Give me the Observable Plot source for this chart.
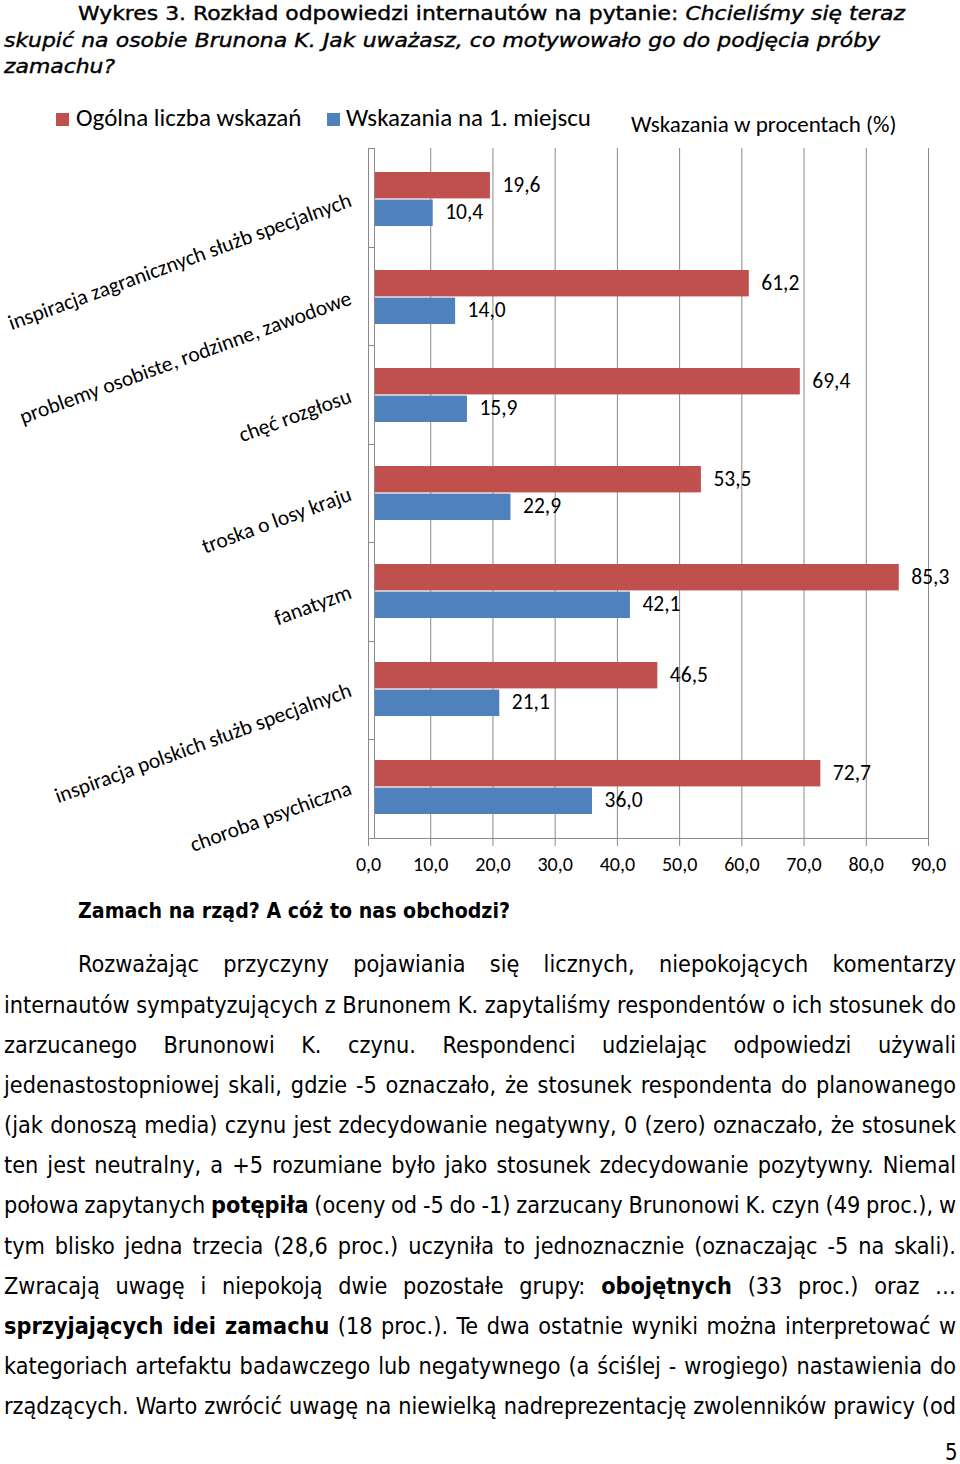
<!DOCTYPE html>
<html><head><meta charset="utf-8">
<script src="https://cdn.jsdelivr.net/npm/d3@7"></script>
<script src="https://cdn.jsdelivr.net/npm/@observablehq/plot@0.6"></script>
<style>
html,body{margin:0;padding:0;background:#fff;}
body{width:960px;height:1464px;position:relative;overflow:hidden;}
.ln{position:absolute;white-space:pre;display:inline-block;font-family:"DejaVu Sans Condensed","DejaVu Sans",sans-serif;font-stretch:condensed;color:#000;line-height:1;}
.lg{position:absolute;font-family:Carlito,Lato,"Open Sans",sans-serif;color:#000;white-space:nowrap;line-height:28px;}
.sw{position:absolute;width:13px;height:13px;}
#chart{position:absolute;left:0;top:140px;}
</style></head>
<body>
<div id="page"></div>
<div class="sw" style="left:56px;top:113px;background:#C0504D"></div>
<div class="lg" id="lg1" style="left:76px;top:104px;font-size:25px"></div>
<div class="sw" style="left:327px;top:113px;background:#4F81BD"></div>
<div class="lg" id="lg2" style="left:346px;top:104px;font-size:25px"></div>
<div class="lg" id="lg3" style="left:631px;top:110px;font-size:23px"></div>
<div id="chart"></div>
<script>
// ---- data ----
const categories = [
  "inspiracja zagranicznych służb specjalnych",
  "problemy osobiste, rodzinne, zawodowe",
  "chęć rozgłosu",
  "troska o losy kraju",
  "fanatyzm",
  "inspiracja polskich służb specjalnych",
  "choroba psychiczna"
];
const seriesNames = ["Ogólna liczba wskazań", "Wskazania na 1. miejscu"];
const totalValues = [19.6, 61.2, 69.4, 53.5, 85.3, 46.5, 72.7];
const firstPlaceValues = [10.4, 14.0, 15.9, 22.9, 42.1, 21.1, 36.0];
const xTicks = [0, 10, 20, 30, 40, 50, 60, 70, 80, 90];
const axisTitle = "Wskazania w procentach (%)";
const seriesColors = ["#C0504D", "#4F81BD"];

const fmt = v => v.toFixed(1).replace(".", ",");
const totalRows = categories.map((c, i) => ({category: c, value: totalValues[i]}));
const firstRows = categories.map((c, i) => ({category: c, value: firstPlaceValues[i]}));

document.getElementById("lg1").textContent = seriesNames[0];
document.getElementById("lg2").textContent = seriesNames[1];
document.getElementById("lg3").textContent = axisTitle;

const gridColor = "#8a8a8a";
const axisBox = (index, scales, values, dims) => {
  const g = d3.create("svg:g").attr("stroke", gridColor).attr("fill", "none");
  const x0 = scales.x(0), x9 = scales.x(xTicks[xTicks.length - 1]);
  const top = dims.marginTop, bottom = dims.height - dims.marginBottom;
  const step = (bottom - top) / categories.length;
  g.append("line").attr("x1", x0 + 6.5).attr("x2", x0 + 6.5).attr("y1", top).attr("y2", bottom);
  for (let k = 0; k <= categories.length; k++) {
    const y = Math.round(top + k * step) + 0.5;
    g.append("line").attr("x1", x0).attr("x2", x0 + 6.5).attr("y1", y).attr("y2", y);
  }
  g.append("line").attr("x1", x0).attr("x2", x9).attr("y1", bottom + 0.5).attr("y2", bottom + 0.5);
  return g.node();
};

const chart = Plot.plot({
  width: 960,
  height: 740,
  marginLeft: 368,
  marginRight: 32,
  marginTop: 8,
  marginBottom: 42,
  style: {fontFamily: "Carlito, Lato, 'Open Sans', sans-serif", color: "#000", background: "#fff"},
  x: {domain: [0, 90]},
  y: {domain: categories, padding: 0},
  marks: [
    Plot.ruleX(xTicks, {stroke: gridColor, strokeWidth: 1}),
    Plot.barX(totalRows, {x: "value", y: "category", fill: seriesColors[0], insetTop: 22, insetBottom: 49.6, insetLeft: 6.5}),
    Plot.barX(firstRows, {x: "value", y: "category", fill: seriesColors[1], insetTop: 49.6, insetBottom: 22, insetLeft: 6.5}),
    Plot.text(totalRows, {x: "value", y: "category", text: d => fmt(d.value), dx: 12, dy: -14, textAnchor: "start", fontSize: 21.5, fill: "#000"}),
    Plot.text(firstRows, {x: "value", y: "category", text: d => fmt(d.value), dx: 12, dy: 13, textAnchor: "start", fontSize: 21.5, fill: "#000"}),
    axisBox,
    Plot.axisX(xTicks, {tickSize: 8, tickPadding: 10, tickFormat: fmt, fontSize: 20, stroke: gridColor, fill: "#000", label: null}),
    Plot.axisY({tickSize: 0, tickPadding: 18, tickRotate: -20, fontSize: 21.5, fill: "#000", label: null})
  ]
});
document.getElementById("chart").appendChild(chart);

// ---- document text ----
const titleLines = [
  {x: 78, r: 905, b: 21, html: 'Wykres 3. Rozkład odpowiedzi internautów na pytanie: <i>Chcieliśmy się teraz</i>'},
  {x: 4, r: 880, b: 47.5, html: '<i>skupić na osobie Brunona K. Jak uważasz, co motywowało go do podjęcia próby</i>'},
  {x: 4, r: null, b: 74, html: '<i>zamachu?</i>'}
];
const headingLines = [
  {x: 78, r: 510, b: 917.5, html: '<b>Zamach na rząd? A cóż to nas obchodzi?</b>'}
];
const bodyTexts = [
  'Rozważając przyczyny pojawiania się licznych, niepokojących komentarzy',
  'internautów sympatyzujących z Brunonem K. zapytaliśmy respondentów o ich stosunek do',
  'zarzucanego Brunonowi K. czynu. Respondenci udzielając odpowiedzi używali',
  'jedenastostopniowej skali, gdzie -5 oznaczało, że stosunek respondenta do planowanego',
  '(jak donoszą media) czynu jest zdecydowanie negatywny, 0 (zero) oznaczało, że stosunek',
  'ten jest neutralny, a +5 rozumiane było jako stosunek zdecydowanie pozytywny. Niemal',
  'połowa zapytanych <b>potępiła</b> (oceny od -5 do -1) zarzucany Brunonowi K. czyn (49 proc.), w',
  'tym blisko jedna trzecia (28,6 proc.) uczyniła to jednoznacznie (oznaczając -5 na skali).',
  'Zwracają uwagę i niepokoją dwie pozostałe grupy: <b>obojętnych</b> (33 proc.) oraz …',
  '<b>sprzyjających idei zamachu</b> (18 proc.). Te dwa ostatnie wyniki można interpretować w',
  'kategoriach artefaktu badawczego lub negatywnego (a ściślej - wrogiego) nastawienia do',
  'rządzących. Warto zwrócić uwagę na niewielką nadreprezentację zwolenników prawicy (od'
];
const bodyLines = bodyTexts.map((h, i) => ({x: i === 0 ? 78 : 4, r: 956, b: 972 + i * 40.18, html: h}));

const page = document.getElementById("page");
function makeLines(lines, calibIndex, capH, extra) {
  const els = lines.map(L => {
    const el = document.createElement("div");
    el.className = "ln";
    el.innerHTML = L.html;
    el.style.left = L.x + "px";
    if (extra) Object.assign(el.style, extra);
    page.appendChild(el);
    return el;
  });
  const c = lines[calibIndex];
  els[calibIndex].style.fontSize = "100px";
  const w100 = els[calibIndex].getBoundingClientRect().width;
  const fs = 100 * (c.r - c.x) / w100;
  const sy = capH / (0.729 * fs);
  els.forEach((el, i) => {
    const L = lines[i];
    el.style.fontSize = fs + "px";
    el.style.top = (L.b - 0.846 * fs) + "px";
    el.style.transformOrigin = "0px " + (0.846 * fs) + "px";
    if (L.r != null) {
      const w = el.getBoundingClientRect().width;
      const n = (el.textContent.match(/ /g) || []).length;
      if (n > 0) el.style.wordSpacing = ((L.r - L.x - w) / n) + "px";
    }
    el.style.transform = "scaleY(" + sy + ")";
  });
}
makeLines(titleLines, 0, 14, {WebkitTextStroke: "0.45px #000"});
makeLines(headingLines, 0, 15);
makeLines(bodyLines, 1, 16.7);

const pn = document.createElement("div");
pn.className = "ln";
pn.textContent = "5";
pn.style.fontSize = "22px";
pn.style.left = "945px";
pn.style.top = (1461 - 0.846 * 22) + "px";
pn.style.transformOrigin = "0px " + (0.846 * 22) + "px";
pn.style.transform = "scaleY(1.05)";
page.appendChild(pn);
</script>
</body></html>
